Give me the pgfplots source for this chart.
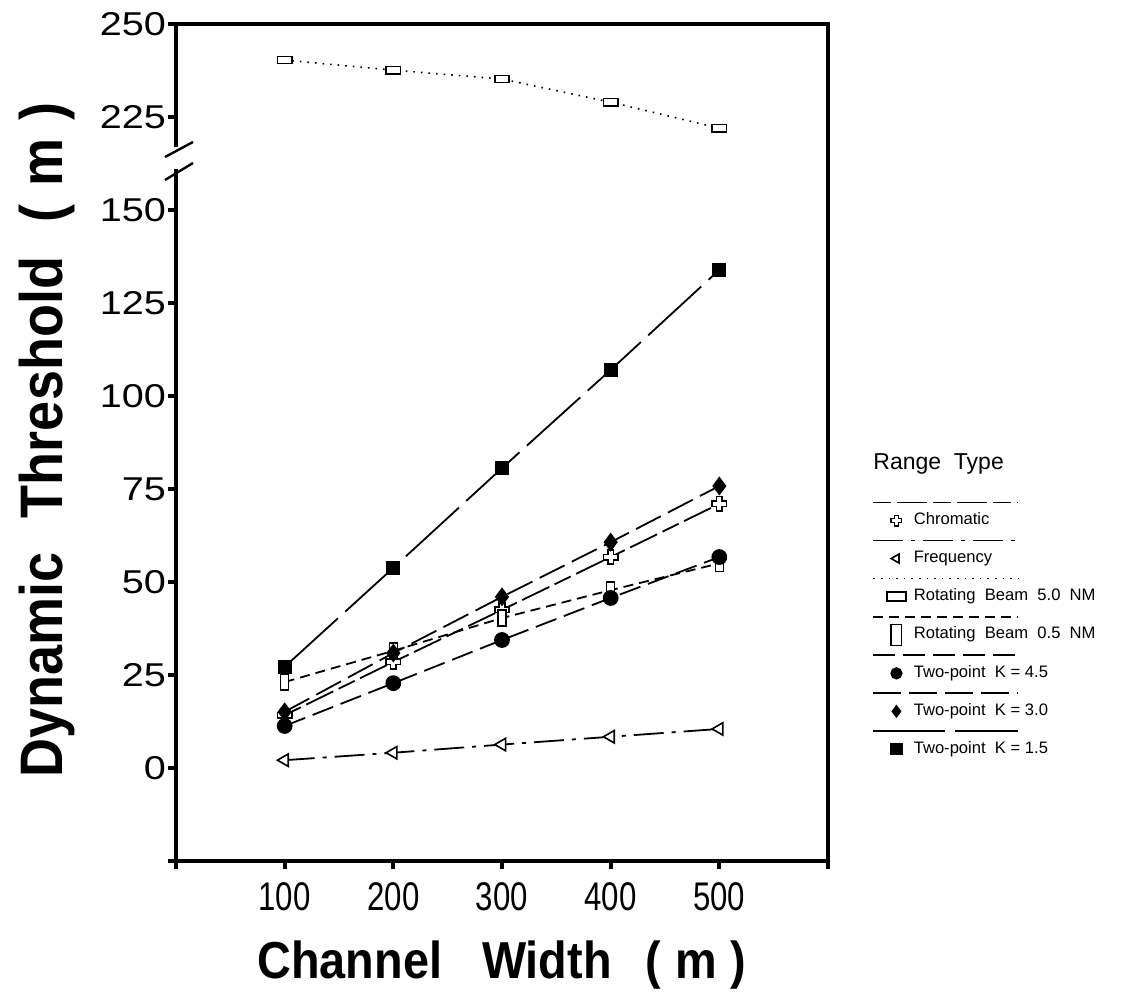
\documentclass[border=0pt]{standalone}
\usepackage{fontspec}
\setmainfont{Liberation Sans}
\newfontfamily\narrowfont[FakeStretch=0.78]{Liberation Sans}
\newfontfamily\widefont[FakeStretch=1.2]{Liberation Sans}
\newfontfamily\labelfont[FakeStretch=0.9]{Liberation Sans}
\usepackage{pgfplots}
\pgfplotsset{compat=1.18}

% open plus used for "Chromatic"
\pgfdeclareplotmark{hplus}{%
  \pgfpathmoveto{\pgfqpoint{0.38\pgfplotmarksize}{\pgfplotmarksize}}%
  \pgfpathlineto{\pgfqpoint{0.38\pgfplotmarksize}{0.38\pgfplotmarksize}}%
  \pgfpathlineto{\pgfqpoint{\pgfplotmarksize}{0.38\pgfplotmarksize}}%
  \pgfpathlineto{\pgfqpoint{\pgfplotmarksize}{-0.38\pgfplotmarksize}}%
  \pgfpathlineto{\pgfqpoint{0.38\pgfplotmarksize}{-0.38\pgfplotmarksize}}%
  \pgfpathlineto{\pgfqpoint{0.38\pgfplotmarksize}{-\pgfplotmarksize}}%
  \pgfpathlineto{\pgfqpoint{-0.38\pgfplotmarksize}{-\pgfplotmarksize}}%
  \pgfpathlineto{\pgfqpoint{-0.38\pgfplotmarksize}{-0.38\pgfplotmarksize}}%
  \pgfpathlineto{\pgfqpoint{-\pgfplotmarksize}{-0.38\pgfplotmarksize}}%
  \pgfpathlineto{\pgfqpoint{-\pgfplotmarksize}{0.38\pgfplotmarksize}}%
  \pgfpathlineto{\pgfqpoint{-0.38\pgfplotmarksize}{0.38\pgfplotmarksize}}%
  \pgfpathlineto{\pgfqpoint{-0.38\pgfplotmarksize}{\pgfplotmarksize}}%
  \pgfpathclose
  \pgfusepathqfillstroke}

\pgfplotsset{
  chrom/.style={black, line width=0.9pt, dash pattern=on 9pt off 3pt on 15pt off 3pt,
    mark=hplus, mark size=3.6pt, mark options={solid, fill=white, line width=0.8pt}},
  freq/.style={black, line width=0.9pt, dash pattern=on 15pt off 4pt on 2pt off 4pt,
    mark=triangle*, mark size=3.6pt, mark options={solid, rotate=90, fill=white, line width=0.8pt}},
  rbfive/.style={black, line width=0.8pt, dash pattern=on 0.8pt off 3pt,
    mark=square*, mark size=2pt, mark options={solid, xscale=1.8, yscale=0.9, fill=white, line width=0.8pt}},
  rbhalf/.style={black, line width=0.9pt, dash pattern=on 5pt off 3pt,
    mark=square*, mark size=2pt, mark options={solid, xscale=1, yscale=2, fill=white, line width=0.8pt}},
  kfour/.style={black, line width=0.9pt, dash pattern=on 11pt off 4pt,
    mark=*, mark size=3.5pt, mark options={solid}},
  kthree/.style={black, line width=0.9pt, dash pattern=on 14pt off 4pt,
    mark=diamond*, mark size=4pt, mark options={solid}},
  kone/.style={black, line width=0.9pt, dash pattern=on 36pt off 5pt,
    mark=square*, mark size=3pt, mark options={solid}},
  common/.style={
    scale only axis, width=326pt,
    xmin=0, xmax=600,
    axis line style={draw=none},
    tick align=outside, ytick pos=left, xtick pos=bottom,
    major tick length=4pt,
    tick style={line width=2pt, black},
    /pgf/number format/assume math mode=true,
    yticklabel style={font=\widefont\fontsize{16.5}{16.5}\selectfont, xshift=2.5pt},
    clip=false,
  },
}

\begin{document}
\begin{tikzpicture}
\useasboundingbox (0,0) rectangle (561.5pt,-500pt);

% upper part of the broken axis
\begin{axis}[common,
  at={(88pt,-12pt)}, anchor=north west, height=61.4pt,
  ymin=217, ymax=250, ytick={225,250}, xtick=\empty]
\addplot[rbfive] coordinates {(100,240.3) (200,237.6) (300,235.2) (400,229) (500,222)};
\end{axis}

% lower part of the broken axis
\begin{axis}[common,
  at={(88pt,-430.5pt)}, anchor=south west, height=346pt,
  ymin=-25, ymax=161,
  ytick={-25,0,...,150}, yticklabels={,0,25,50,75,100,125,150},
  xtick={0,100,...,600}, xticklabels={,100,200,300,400,500,},
  xticklabel style={font=\narrowfont\fontsize{20}{20}\selectfont, yshift=-3pt},
  legend style={at={(1.09,0.507)}, anchor=north west, draw=none, fill=none,
    inner sep=0pt, row sep=9pt, column sep=3pt,
    nodes={font=\fontsize{8.3}{8.3}\selectfont, text height=6pt, text depth=2pt, inner sep=1pt}},
  legend cell align=left,
  legend image code/.code={%
    \draw[#1, overlay, mark=none] (-11.5pt,9pt) -- (61pt,9pt);
    \draw[#1, mark size=2.6pt] plot coordinates {(0pt,0pt)};}]
\addplot[chrom] coordinates {(100,14.2) (200,28.5) (300,42.5) (400,56.7) (500,71)};
\addplot[freq] coordinates {(100,2.1) (200,4.1) (300,6.3) (400,8.4) (500,10.5)};
\addlegendimage{rbfive}
\addplot[rbhalf] coordinates {(100,23.1) (200,31.5) (300,40.3) (400,47.8) (500,55)};
\addplot[kfour] coordinates {(100,11.3) (200,22.8) (300,34.4) (400,45.7) (500,56.7)};
\addplot[kthree] coordinates {(100,15.1) (200,30.9) (300,46) (400,60.7) (500,75.8)};
\addplot[kone] coordinates {(100,27.2) (200,53.8) (300,80.6) (400,107) (500,133.9)};
\legend{Chromatic, Frequency, Rotating\ \ Beam\ \ 5.0\ \ NM, Rotating\ \ Beam\ \ 0.5\ \ NM,
  Two-point\ \ K = 4.5, Two-point\ \ K = 3.0, Two-point\ \ K = 1.5}
\end{axis}

% frame with the break on the left side
\draw[line width=2pt] (88pt,-73.4pt) -- (88pt,-12pt) -- (414pt,-12pt) -- (414pt,-430.5pt)
  -- (88pt,-430.5pt) -- (88pt,-84.5pt);
\draw[line width=1.2pt] (82.5pt,-78.5pt) -- (96.5pt,-71pt);
\draw[line width=1.2pt] (82.5pt,-90pt) -- (96.5pt,-81.5pt);

\node[anchor=west, inner sep=0pt, font=\fontsize{11.5}{11.5}\selectfont] at (436.5pt,-232pt) {Range\ \ Type};
\node[rotate=90, inner sep=0pt, font=\labelfont\bfseries\fontsize{30}{30}\selectfont] at (23.5pt,-220pt)
  {Dynamic\hspace{17pt}Threshold\hspace{17pt}(\hspace{9pt}m\hspace{9pt})};
\node[inner sep=0pt, font=\labelfont\bfseries\fontsize{26}{26}\selectfont] at (251pt,-482.5pt)
  {Channel\hspace{20pt}Width\hspace{17pt}(\hspace{7pt}m\hspace{7pt})};
\end{tikzpicture}
\end{document}
